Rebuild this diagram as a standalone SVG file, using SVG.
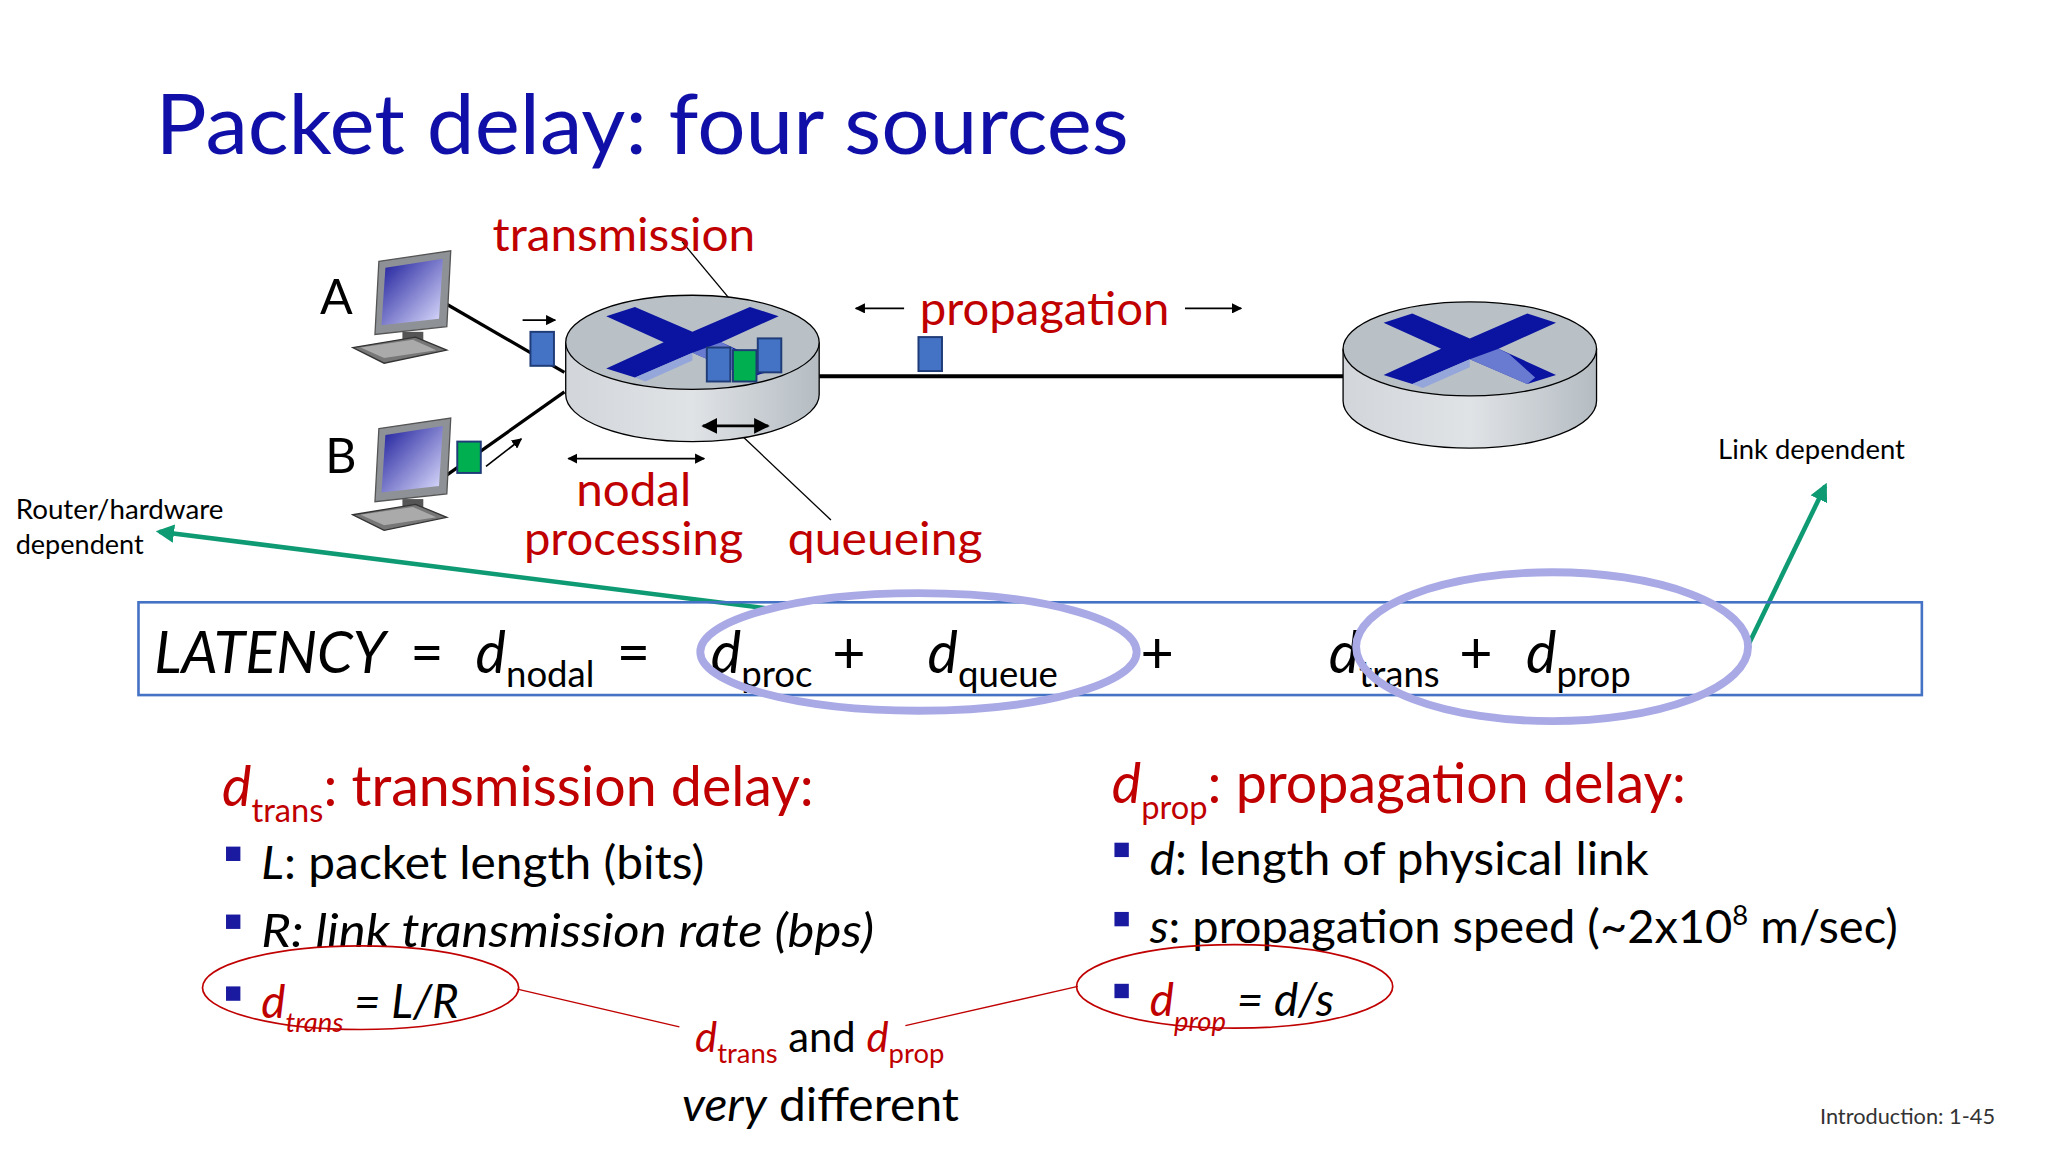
<svg xmlns="http://www.w3.org/2000/svg" width="2048" height="1152" viewBox="0 0 2048 1152">
<style>
text{font-family:Lato,"Open Sans","Liberation Sans",sans-serif}
.red{fill:#c00000}
.it{font-style:italic}
.pk{stroke:#1f3c78;stroke-width:1.5}
.ln{stroke:#000;fill:none}
</style>
<defs>
<marker id="ah" viewBox="0 0 10 10" refX="9" refY="5" markerWidth="6" markerHeight="6" orient="auto-start-reverse"><path d="M0,0L10,5L0,10z" fill="#000"/></marker>
<marker id="gh" viewBox="0 0 10 10" refX="8" refY="5" markerWidth="4" markerHeight="4" orient="auto"><path d="M0,0L10,5L0,10z" fill="#0e9a73"/></marker>
<linearGradient id="cyl" x1="0" x2="1"><stop offset="0" stop-color="#d2d6da"/><stop offset="0.5" stop-color="#e0e3e6"/><stop offset="1" stop-color="#b4bcc2"/></linearGradient>
<linearGradient id="scr" x1="0" y1="0" x2="1" y2="1"><stop offset="0" stop-color="#1a1a9a"/><stop offset="1" stop-color="#e0e0ff"/></linearGradient>
<g id="router">
<path d="M-97,0 V40 A97,36 0 0 0 97,40 V0" fill="url(#cyl)" stroke="#000" stroke-width="1"/>
<ellipse cx="0" cy="0" rx="97" ry="36" fill="#b9c1c7" stroke="#000" stroke-width="1"/>
<path d="M-66,-20 L-44,-27 L0,-8 L44,-27 L66,-20 L22,0 L66,20 L44,27 L0,8 L-44,27 L-66,20 L-22,0z" fill="#0a14a0"/>
<path d="M-22,0 L0,8 L0,14 L-36,30 L-44,27 L0,8z M22,0 L0,8 L44,27 L50,22 L30,4z" fill="#8a9ee0" opacity="0.75"/>
</g>
<g id="pc">
<path d="M20,0 L75,-8 L72,50 L17,56z" fill="#8e9296" stroke="#555"/>
<path d="M25,5 L69,-2 L66,44 L22,49z" fill="url(#scr)"/>
<rect x="38" y="54" width="16" height="8" fill="#555"/>
<path d="M0,66 L48,58 L72,68 L24,78z" fill="#777" stroke="#333"/>
<path d="M6,66 L46,60 L64,68 L24,74z" fill="#aaa"/>
</g>
</defs>
<rect width="2048" height="1152" fill="#fff"/>
<g transform="scale(1.3065)">
<text x="119" y="118" font-size="64" fill="#1010a8" textLength="745" lengthAdjust="spacingAndGlyphs">Packet delay: four sources</text>

<g id="connectors">
<line x1="337" y1="230" x2="432" y2="285" class="ln" stroke-width="2.5"/>
<line x1="340" y1="365" x2="432" y2="300" class="ln" stroke-width="2.5"/>
<line x1="627" y1="288" x2="1028" y2="288" class="ln" stroke-width="3"/>
<line x1="400" y1="245" x2="425" y2="245" class="ln" stroke-width="1.3" marker-end="url(#ah)"/>
<line x1="372" y1="357" x2="399" y2="336" class="ln" stroke-width="1.3" marker-end="url(#ah)"/>
<line x1="692" y1="236" x2="655" y2="236" class="ln" stroke-width="1.3" marker-end="url(#ah)"/>
<line x1="907" y1="236" x2="950" y2="236" class="ln" stroke-width="1.3" marker-end="url(#ah)"/>
<line x1="435" y1="351" x2="539" y2="351" class="ln" stroke-width="1.3" marker-start="url(#ah)" marker-end="url(#ah)"/>
<line x1="522" y1="185" x2="572" y2="245" class="ln" stroke-width="1"/>
<line x1="562" y1="328" x2="636" y2="398" class="ln" stroke-width="1"/>
<line x1="590" y1="466" x2="122" y2="407" stroke="#0e9a73" stroke-width="3.5" marker-end="url(#gh)"/>
<line x1="1338" y1="494" x2="1397" y2="372" stroke="#0e9a73" stroke-width="3.5" marker-end="url(#gh)"/>
<line x1="396" y1="757" x2="520" y2="786" stroke="#c00000" stroke-width="1"/>
<line x1="693" y1="785" x2="825" y2="755" stroke="#c00000" stroke-width="1"/>
</g>

<g id="hostA"><use href="#pc" x="270" y="200"/><text x="245" y="240" font-size="37">A</text></g>
<g id="hostB"><use href="#pc" x="270" y="328"/><text x="249" y="362" font-size="37">B</text></g>
<g id="router1">
<use href="#router" x="530" y="262"/>
<line x1="538" y1="326" x2="588" y2="326" class="ln" stroke-width="2" marker-start="url(#ah)" marker-end="url(#ah)"/>
</g>
<g id="router2"><use href="#router" x="1125" y="267"/></g>
<g id="packets">
<rect x="406" y="254" width="18" height="26" fill="#4472c4" class="pk"/>
<rect x="350" y="338" width="18" height="24" fill="#00b050" class="pk"/>
<rect x="541" y="266" width="18" height="26" fill="#4472c4" class="pk"/>
<rect x="561" y="268" width="18" height="24" fill="#00b050" class="pk"/>
<rect x="580" y="259" width="18" height="26" fill="#4472c4" class="pk"/>
<rect x="703" y="258" width="18" height="26" fill="#4472c4" class="pk"/>
</g>
<g id="labels" font-size="36">
<text x="377" y="192" class="red" textLength="201" lengthAdjust="spacingAndGlyphs">transmission</text>
<text x="704" y="249" class="red" textLength="191" lengthAdjust="spacingAndGlyphs">propagation</text>
<text x="441" y="387" class="red" textLength="88" lengthAdjust="spacingAndGlyphs">nodal</text>
<text x="401" y="425" class="red" textLength="168" lengthAdjust="spacingAndGlyphs">processing</text>
<text x="603" y="425" class="red" textLength="149" lengthAdjust="spacingAndGlyphs">queueing</text>
<text x="12" y="397" font-size="20" textLength="159" lengthAdjust="spacingAndGlyphs">Router/hardware</text>
<text x="12" y="424" font-size="20" textLength="98" lengthAdjust="spacingAndGlyphs">dependent</text>
<text x="1315" y="351" font-size="20" textLength="143" lengthAdjust="spacingAndGlyphs">Link dependent</text>
</g>

<g id="formula">
<rect x="106" y="461" width="1365" height="71" fill="none" stroke="#4472c4" stroke-width="2"/>
<text y="515" font-size="44">
<tspan x="118" class="it">LATENCY</tspan><tspan x="314">=</tspan>
<tspan x="364" class="it">d</tspan><tspan font-size="28" dy="11">nodal</tspan>
<tspan x="472" dy="-11">=</tspan>
<tspan x="544" class="it">d</tspan><tspan font-size="28" dy="11">proc</tspan>
<tspan x="637" dy="-11">+</tspan>
<tspan x="710" class="it">d</tspan><tspan font-size="28" dy="11">queue</tspan>
<tspan x="873" dy="-11">+</tspan>
<tspan x="1017" class="it">d</tspan><tspan font-size="28" dy="11">trans</tspan>
<tspan x="1117" dy="-11">+</tspan>
<tspan x="1168" class="it">d</tspan><tspan font-size="28" dy="11">prop</tspan>
</text>
<ellipse cx="703" cy="499" rx="167" ry="45" fill="none" stroke="#a9a9e6" stroke-width="6"/>
<ellipse cx="1188" cy="495" rx="150" ry="57" fill="none" stroke="#a9a9e6" stroke-width="6"/>
</g>

<g id="left">
<text y="617" font-size="42.5" class="red"><tspan x="170" class="it">d</tspan><tspan font-size="25" dy="12">trans</tspan><tspan dy="-12">: transmission delay:</tspan></text>
<rect x="173" y="648" width="11" height="11" fill="#1a1aa0"/>
<rect x="173" y="700" width="11" height="11" fill="#1a1aa0"/>
<rect x="173" y="755" width="11" height="11" fill="#1a1aa0"/>
<text x="200" y="673" font-size="36" textLength="339" lengthAdjust="spacingAndGlyphs"><tspan class="it">L</tspan>: packet length (bits)</text>
<text x="200" y="725" font-size="36" class="it" textLength="469" lengthAdjust="spacingAndGlyphs">R: link transmission rate (bps)</text>
<text y="779" font-size="35" class="it"><tspan x="200" class="red">d</tspan><tspan font-size="21" dy="11" class="red">trans</tspan><tspan dy="-11"> = L/R</tspan></text>
<ellipse cx="276" cy="756" rx="121" ry="32" fill="none" stroke="#c00000" stroke-width="1.3"/>
</g>
<g id="right">
<text y="615" font-size="42.5" class="red"><tspan x="851" class="it">d</tspan><tspan font-size="25" dy="12">prop</tspan><tspan dy="-12">: propagation delay:</tspan></text>
<rect x="853" y="645" width="11" height="11" fill="#1a1aa0"/>
<rect x="853" y="698" width="11" height="11" fill="#1a1aa0"/>
<rect x="853" y="753" width="11" height="11" fill="#1a1aa0"/>
<text x="880" y="670" font-size="36" textLength="382" lengthAdjust="spacingAndGlyphs"><tspan class="it">d</tspan>: length of physical link</text>
<text x="880" y="722" font-size="36"><tspan class="it">s</tspan>: propagation speed (~2x10<tspan font-size="21" dy="-14">8</tspan><tspan dy="14"> m/sec)</tspan></text>
<text y="778" font-size="35" class="it"><tspan x="880" class="red">d</tspan><tspan font-size="21" dy="11" class="red">prop</tspan><tspan dy="-11"> = d/s</tspan></text>
<ellipse cx="945" cy="755" rx="121" ry="32" fill="none" stroke="#c00000" stroke-width="1.3"/>
</g>
<g id="note">
<text y="805" font-size="32"><tspan x="532" class="red it">d</tspan><tspan font-size="21" dy="9" class="red">trans</tspan><tspan dy="-9"> and </tspan><tspan class="red it">d</tspan><tspan font-size="21" dy="9" class="red">prop</tspan></text>
<text x="522" y="858" font-size="36" textLength="212" lengthAdjust="spacingAndGlyphs"><tspan class="it">very</tspan> different</text>
<text x="1393" y="860" font-size="16" fill="#333" textLength="134" lengthAdjust="spacingAndGlyphs">Introduction: 1-45</text>
</g>
</g>
</svg>
